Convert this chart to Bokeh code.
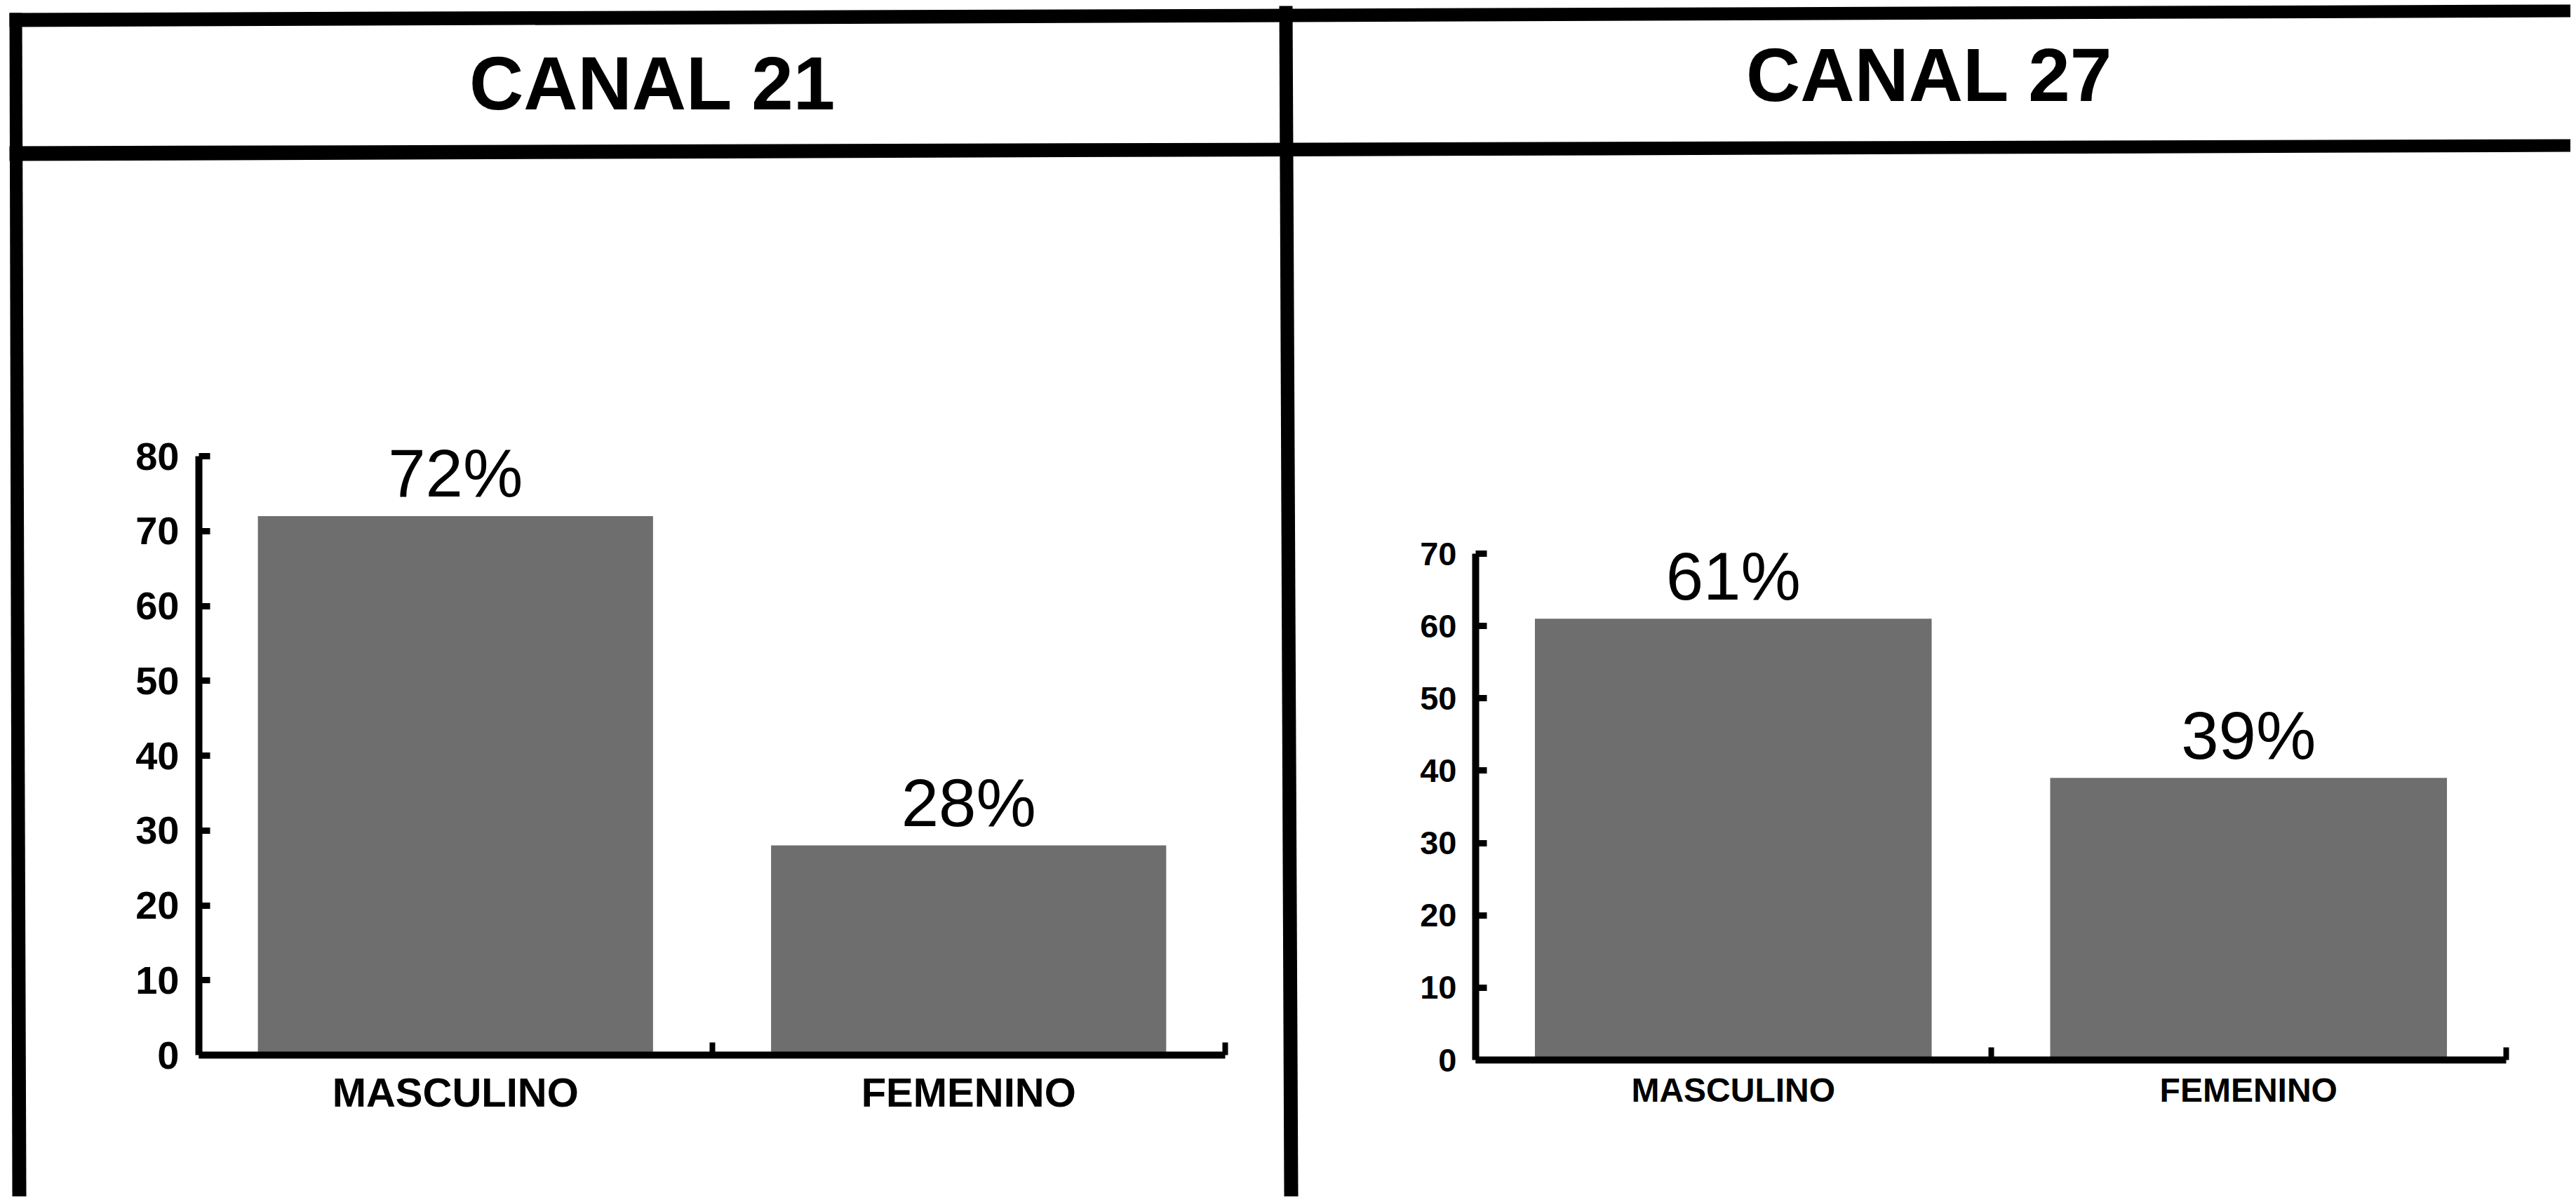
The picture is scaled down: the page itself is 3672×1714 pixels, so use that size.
from bokeh.plotting import figure
from bokeh.models import Range1d, LinearAxis, FixedTicker, ColumnDataSource
from bokeh.core.properties import value
from bokeh.embed import file_html
from bokeh.resources import INLINE

# ---------------- data ----------------
TITLES = ["CANAL 21", "CANAL 27"]
CATEGORIES = ["MASCULINO", "FEMENINO"]
CANAL_21 = [72, 28]
CANAL_27 = [61, 39]
LABELS_21 = ["72%", "28%"]
LABELS_27 = ["61%", "39%"]
YTICKS_21 = [0, 10, 20, 30, 40, 50, 60, 70, 80]
YTICKS_27 = [0, 10, 20, 30, 40, 50, 60, 70]

# ---------------- layout ----------------
W, H = 3664, 1706
FONT = "Liberation Sans"
BAR_COLOR = "#6e6e6e"

p = figure(width=W, height=H, x_range=Range1d(0, W), y_range=Range1d(H, 0),
           output_backend="svg", toolbar_location=None, min_border=0,
           x_axis_location=None, y_axis_location=None)
p.grid.visible = False
p.outline_line_color = None
p.background_fill_color = "white"
p.border_fill_color = "white"

# boxed frame (pixel coordinates, slightly skewed like the scan)
frame_xs = [
    [13, W, W, 13],            # top border
    [13, W, W, 13],            # header separator
    [13, 31, 37, 17],          # left border
    [1823, 1842, 1850, 1830],  # centre divider
]
frame_ys = [
    [18, 6, 24, 38],
    [208, 198, 216, 229],
    [18, 18, H, H],
    [8, 8, H, H],
]
p.patches(frame_xs, frame_ys, fill_color="black", line_color=None)

panels = [
    dict(title=TITLES[0], values=CANAL_21, labels=LABELS_21, yticks=YTICKS_21,
         ax_left=283, ax_right=1746, y_zero=1504, y_top=650,
         title_x=930, title_y=118,
         tick_size="56px", cat_size="58px", y_standoff=28, x_standoff=20),
    dict(title=TITLES[1], values=CANAL_27, labels=LABELS_27, yticks=YTICKS_27,
         ax_left=2103, ax_right=3572, y_zero=1511, y_top=789,
         title_x=2750, title_y=106,
         tick_size="47px", cat_size="48px", y_standoff=27, x_standoff=16),
]

n = len(CATEGORIES)
extra_x, extra_y = {}, {}
for i, c in enumerate(panels):
    ymax = c["yticks"][-1]
    ux = (c["ax_right"] - c["ax_left"]) / n
    x_start = -0.5 - c["ax_left"] / ux
    extra_x[f"x{i}"] = Range1d(x_start, x_start + W / ux)
    uy = (c["y_zero"] - c["y_top"]) / ymax
    extra_y[f"y{i}"] = Range1d(-(H - c["y_zero"]) / uy, c["y_zero"] / uy)
p.extra_x_ranges = extra_x
p.extra_y_ranges = extra_y

for i, c in enumerate(panels):
    xn, yn = f"x{i}", f"y{i}"
    ymax = c["yticks"][-1]

    # header title
    p.text(x=[c["title_x"]], y=[c["title_y"]], text=[c["title"]],
           text_font=value(FONT), text_font_style="bold", text_font_size="107px",
           text_align="center", text_baseline="alphabetic", text_color="black")

    src = ColumnDataSource(dict(x=list(range(n)), top=c["values"],
                                label=c["labels"], cat=CATEGORIES))
    p.vbar(x="x", top="top", bottom=0, width=0.77, source=src,
           x_range_name=xn, y_range_name=yn,
           fill_color=BAR_COLOR, line_color=None)
    p.text(x="x", y="top", text="label", source=src,
           x_range_name=xn, y_range_name=yn, y_offset=-61,
           text_font=value(FONT), text_font_size="96px",
           text_align="center", text_baseline="alphabetic", text_color="black")

    yax = LinearAxis(x_range_name=xn, y_range_name=yn, fixed_location=-0.5,
                     bounds=(0, ymax), ticker=FixedTicker(ticks=c["yticks"]),
                     axis_line_width=10, axis_line_color="black",
                     major_tick_in=16, major_tick_out=0, major_tick_line_width=9,
                     major_tick_line_color="black", minor_tick_line_color=None,
                     major_label_standoff=c["y_standoff"],
                     major_label_text_font=FONT, major_label_text_font_style="bold",
                     major_label_text_font_size=c["tick_size"],
                     major_label_text_color="black")
    p.add_layout(yax, "left")

    xax = LinearAxis(x_range_name=xn, y_range_name=yn, fixed_location=0,
                     bounds=(-0.5, n - 0.5),
                     ticker=FixedTicker(ticks=list(range(n)),
                                        minor_ticks=[k + 0.5 for k in range(n)]),
                     major_label_overrides={k: cat for k, cat in enumerate(CATEGORIES)},
                     axis_line_width=10, axis_line_color="black",
                     major_tick_line_color=None, major_tick_in=0, major_tick_out=0,
                     minor_tick_in=18, minor_tick_out=0, minor_tick_line_width=8,
                     minor_tick_line_color="black",
                     major_label_standoff=c["x_standoff"],
                     major_label_text_font=FONT, major_label_text_font_style="bold",
                     major_label_text_font_size=c["cat_size"],
                     major_label_text_color="black")
    p.add_layout(xax, "below")

open("out.html", "w").write(file_html(p, INLINE))
